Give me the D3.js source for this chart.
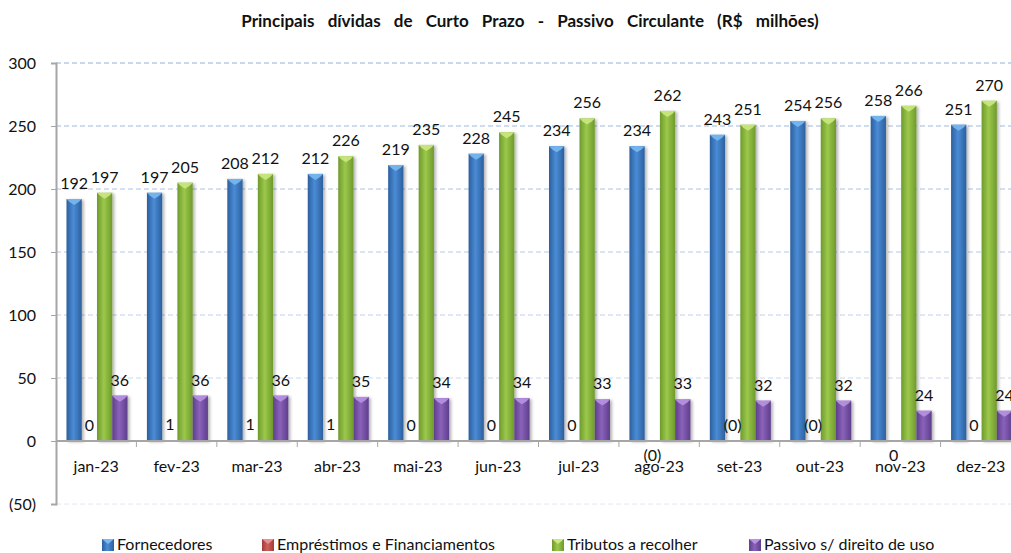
<!DOCTYPE html>
<html>
<head>
<meta charset="utf-8">
<script src="https://cdn.jsdelivr.net/npm/d3@7"></script>
<style>
  body { margin: 0; background: #fff; }
  svg { font-family: Lato, "Open Sans", sans-serif; }
</style>
</head>
<body>
<script>
var meses = ['jan-23','fev-23','mar-23','abr-23','mai-23','jun-23','jul-23','ago-23','set-23','out-23','nov-23','dez-23']
var series = ['Fornecedores','Empréstimos e Financiamentos','Tributos a recolher','Passivo s/ direito de uso']
var fornecedores = [192,197,208,212,219,228,234,234,243,254,258,251]
var emprestimos = [0.3,0.6,0.5,0.5,0.3,0.2,0.2,-0.3,-0.2,-0.2,0,0.1]
var tributos = [197,205,212,226,235,245,256,262,251,256,266,270]
var passivo = [36,36,36,35,34,34,33,33,32,32,24,24]
var yTicks = [-50,0,50,100,150,200,250,300]
// rotulos de emprestimos que ficam abaixo do eixo
var rotuloAbaixo = ['ago-23','nov-23']

var cores = [
  {mid:'#4a8cd6', edge:'#2c5f9e', top:'#79b9f0'},
  {mid:'#d0605c', edge:'#a03c3a', top:'#e89090'},
  {mid:'#9cc84c', edge:'#6e9a2c', top:'#cbe880'},
  {mid:'#8a62ba', edge:'#5e3e8c', top:'#b994e2'}
]

var W = 1011, H = 553
var svg = d3.select('body').append('svg').attr('width', W).attr('height', H)
var defs = svg.append('defs')

cores.forEach(function(c, i){
  var g = defs.append('linearGradient').attr('id', 'g' + i)
    .attr('x1', 0).attr('x2', 1).attr('y1', 0).attr('y2', 0)
  g.append('stop').attr('offset', '0%').attr('stop-color', c.edge)
  g.append('stop').attr('offset', '45%').attr('stop-color', c.mid)
  g.append('stop').attr('offset', '100%').attr('stop-color', c.edge)
})
var f = defs.append('filter').attr('id', 'sh').attr('x', '-20%').attr('y', '-5%').attr('width', '150%').attr('height', '115%')
f.append('feDropShadow').attr('dx', 2).attr('dy', 1).attr('stdDeviation', 1.5).attr('flood-color', '#000').attr('flood-opacity', 0.3)

var x = d3.scaleBand().domain(meses).range([56, 1021])
var xs = d3.scaleBand().domain(d3.range(4)).range([10.5, 71.5])
var y = d3.scaleLinear().domain([-50, 300]).range([504, 63])

// titulo
svg.append('text').attr('x', 530).attr('y', 27).attr('text-anchor', 'middle')
  .attr('font-weight', 'bold').attr('font-size', 17).attr('word-spacing', 9).attr('fill', '#111')
  .text('Principais dívidas de Curto Prazo - Passivo Circulante (R$ milhões)')

// grid
var gridCor = d3.scaleLinear().domain([300, -50]).range(['#94b0da', '#e0e8f3'])
svg.append('g').selectAll('line').data(yTicks.filter(function(d){return d != 0}))
  .enter().append('line')
  .attr('x1', 56).attr('x2', W).attr('y1', function(d){return y(d)}).attr('y2', function(d){return y(d)})
  .attr('stroke', function(d){return gridCor(d)}).attr('stroke-dasharray', '5,3').attr('stroke-width', 1)

// eixo y
var yAxis = svg.append('g').attr('transform', 'translate(56,0)')
  .call(d3.axisLeft(y).tickValues(yTicks).tickSize(5).tickPadding(15)
    .tickFormat(function(d){return d < 0 ? '(' + (-d) + ')' : d}))
yAxis.select('.domain').attr('stroke', '#a6a6a6').attr('stroke-width', 2)
yAxis.selectAll('line').attr('stroke', '#a6a6a6')
yAxis.selectAll('text').attr('font-size', 16).attr('fill', '#111').attr('font-family', 'Lato')

var dados = [fornecedores, emprestimos, tributos, passivo]

// barras
dados.forEach(function(vals, s){
  var g = svg.append('g')
  vals.forEach(function(v, i){
    var bx = x(meses[i]) + xs(s), bw = xs.bandwidth()
    var top = Math.min(y(v), y(0)), h = Math.abs(y(v) - y(0))
    if (s == 1) {
      g.append('rect').attr('x', bx).attr('y', top).attr('width', bw).attr('height', Math.max(h, 1))
        .attr('fill', '#e29a98')
      return
    }
    g.append('rect').attr('x', bx).attr('y', top).attr('width', bw).attr('height', h)
      .attr('fill', 'url(#g' + s + ')').attr('filter', 'url(#sh)')
    // chanfro superior
    g.append('path')
      .attr('d', 'M' + bx + ',' + top + 'L' + (bx + bw) + ',' + top + 'L' + (bx + bw - 3) + ',' + (top + 3) +
        'L' + (bx + bw/2) + ',' + (top + 6) + 'L' + (bx + 3) + ',' + (top + 3) + 'Z')
      .attr('fill', cores[s].top).attr('opacity', 0.9)
  })
})

// eixo x
var xAxis = svg.append('g').attr('transform', 'translate(0,' + y(0) + ')')
xAxis.append('line').attr('x1', 56).attr('x2', W).attr('stroke', '#a6a6a6').attr('stroke-width', 2)
xAxis.selectAll('.tk').data(meses.slice(1)).enter().append('line')
  .attr('x1', function(d){return x(d)}).attr('x2', function(d){return x(d)})
  .attr('y1', 0).attr('y2', 6).attr('stroke', '#a6a6a6')
xAxis.selectAll('.lb').data(meses).enter().append('text')
  .attr('x', function(d){return x(d) + x.bandwidth()/2}).attr('y', 31)
  .attr('text-anchor', 'middle').attr('font-size', 16).attr('fill', '#111')
  .text(function(d){return d})

// rotulos
function fmt(v){
  var r = Math.round(Math.abs(v))
  return v < 0 ? '(' + r + ')' : '' + r
}
dados.forEach(function(vals, s){
  svg.append('g').selectAll('text').data(vals).enter().append('text')
    .attr('x', function(d, i){return x(meses[i]) + xs(s) + xs.bandwidth()/2})
    .attr('y', function(d, i){
      if (s == 1 && rotuloAbaixo.indexOf(meses[i]) > -1) return y(0) + 20
      return Math.min(y(d), y(0)) - 10
    })
    .attr('text-anchor', 'middle').attr('font-size', 16).attr('fill', '#111')
    .text(fmt)
})

// legenda
var leg = [102, 262, 552, 749]
var lg = svg.append('g')
series.forEach(function(nome, s){
  lg.append('rect').attr('x', leg[s]).attr('y', 539).attr('width', 12).attr('height', 12)
    .attr('fill', 'url(#g' + s + ')')
  lg.append('path').attr('d', 'M' + leg[s] + ',539h12l-6,5z').attr('fill', cores[s].top)
  lg.append('text').attr('x', leg[s] + 15).attr('y', 550).attr('font-size', 16).attr('fill', '#111').text(nome)
})
</script>
</body>
</html>
